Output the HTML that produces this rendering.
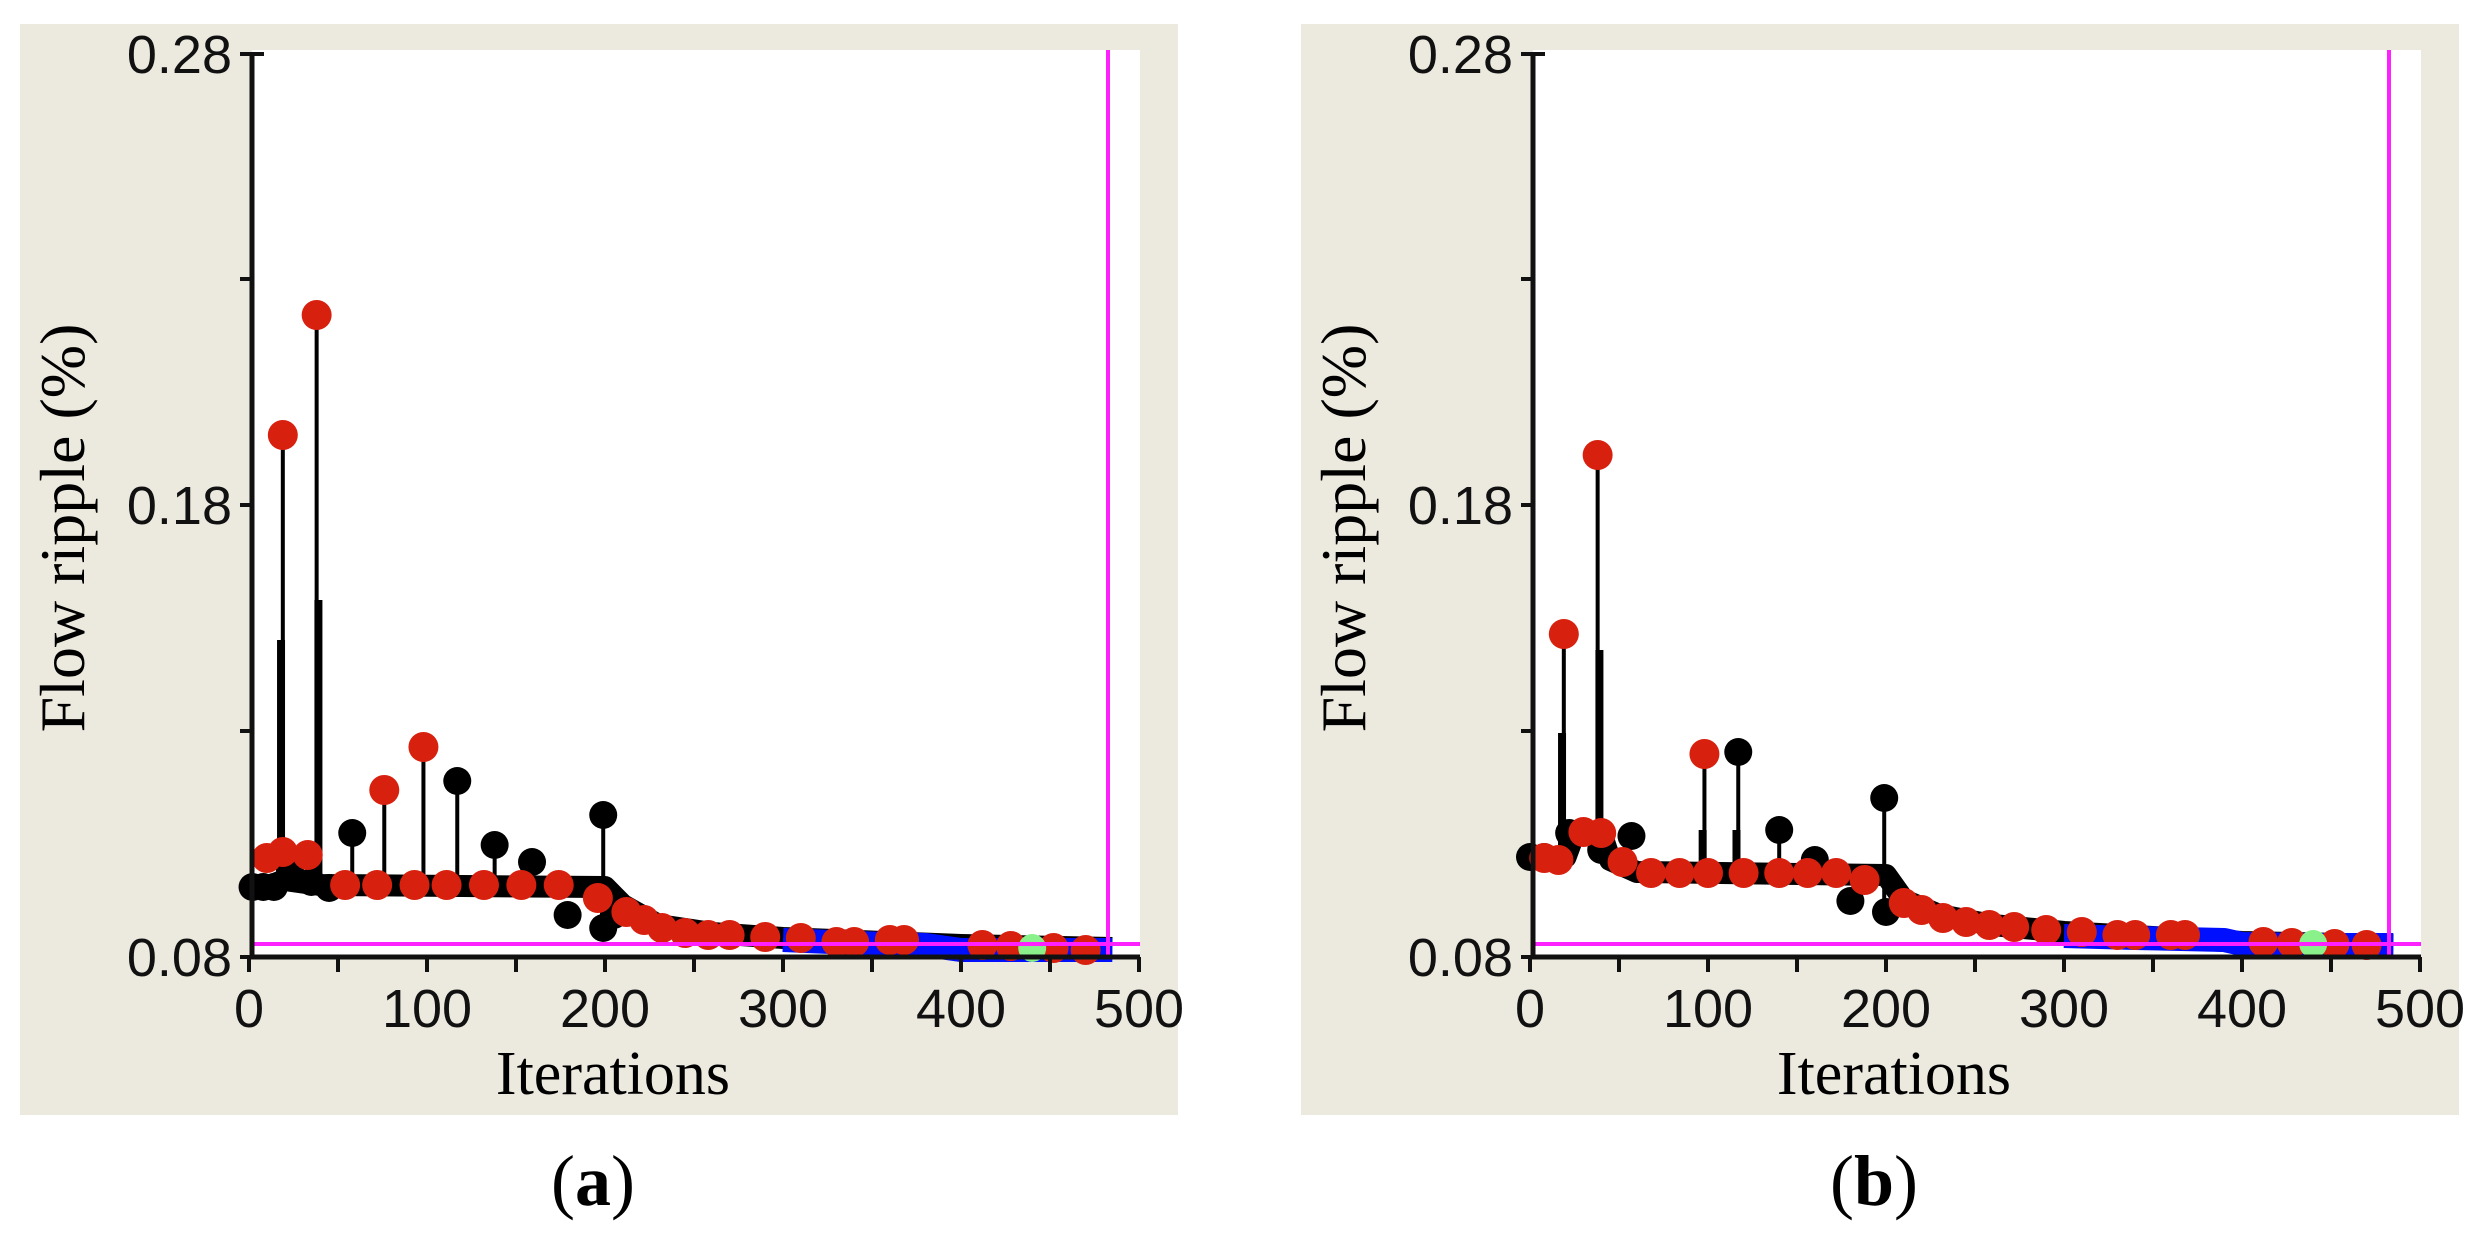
<!DOCTYPE html>
<html><head><meta charset="utf-8"><style>
html,body{margin:0;padding:0;background:#fff;width:2479px;height:1243px;overflow:hidden}
svg{display:block}
.t{font-family:"Liberation Sans",sans-serif;font-size:54px;fill:#111}
.s{font-family:"Liberation Serif",serif;fill:#000}
</style></head><body>
<svg id="s" width="2479" height="1243" xmlns="http://www.w3.org/2000/svg">
<g id="pa"></g><g id="pb" transform="translate(1281,0)"></g>
<text class="s" x="613" y="1094" font-size="62" text-anchor="middle">Iterations</text>
<text class="s" x="0" y="0" font-size="64" text-anchor="middle" transform="translate(84,528) rotate(-90)">Flow ripple (%)</text>
<text class="s" x="593" y="1205" font-size="72" text-anchor="middle">(<tspan font-weight="bold">a</tspan>)</text>
<text class="s" x="1894" y="1094" font-size="62" text-anchor="middle">Iterations</text>
<text class="s" x="0" y="0" font-size="64" text-anchor="middle" transform="translate(1365,528) rotate(-90)">Flow ripple (%)</text>
<text class="s" x="1874" y="1205" font-size="72" text-anchor="middle">(<tspan font-weight="bold">b</tspan>)</text>
</svg>
<script>
function X(i){return 249+i*1.78;}
function build(id,d){
 var s='';
 s+='<rect x="20" y="24" width="1158" height="1091" fill="#ece9de"/>';
 s+='<rect x="252" y="50" width="888" height="907" fill="#fff"/>';
 s+='<polyline points="'+d.base.map(p=>X(p[0])+','+p[1]).join(' ')+'" fill="none" stroke="#000" stroke-width="22" stroke-linejoin="round"/>';
 s+='<polyline points="'+d.blue.map(p=>X(p[0])+','+p[1]).join(' ')+'" fill="none" stroke="#0010ff" stroke-width="24" stroke-linejoin="round"/>';
 d.stems.forEach(function(p){s+='<line x1="'+X(p[0])+'" y1="'+p[1]+'" x2="'+X(p[0])+'" y2="'+p[2]+'" stroke="#000" stroke-width="'+(p[3]||4)+'"/>';});
 d.blk.forEach(function(p){s+='<circle cx="'+X(p[0])+'" cy="'+p[1]+'" r="14" fill="#000"/>';});
 d.red.forEach(function(p){s+='<circle cx="'+X(p[0])+'" cy="'+p[1]+'" r="15" fill="#d8200f"/>';});
 s+='<circle cx="'+X(d.green[0])+'" cy="'+d.green[1]+'" r="14" fill="#8af08a"/>';
 s+='<line x1="252" y1="944" x2="1140" y2="944" stroke="#ff20ff" stroke-width="4"/>';
 s+='<line x1="1108" y1="50" x2="1108" y2="957" stroke="#ff20ff" stroke-width="4"/>';
 s+='<line x1="252" y1="52" x2="252" y2="959" stroke="#111" stroke-width="5"/>';
 s+='<line x1="250" y1="957" x2="1140" y2="957" stroke="#111" stroke-width="5"/>';
 s+='<line x1="240" y1="54" x2="264" y2="54" stroke="#111" stroke-width="4"/>';
 [279,505,731,957].forEach(function(y){s+='<line x1="240" y1="'+y+'" x2="252" y2="'+y+'" stroke="#111" stroke-width="4"/>';});
 for(var i=0;i<=500;i+=50){s+='<line x1="'+X(i)+'" y1="957" x2="'+X(i)+'" y2="972" stroke="#111" stroke-width="4"/>';}
 var yl=[["0.28",54],["0.18",505],["0.08",957]];
 yl.forEach(function(a){s+='<text class="t" x="232" y="'+(a[1]+19)+'" text-anchor="end">'+a[0]+'</text>';});
 for(var i=0;i<=500;i+=100){s+='<text class="t" x="'+X(i)+'" y="1027" text-anchor="middle">'+i+'</text>';}
 document.getElementById(id).innerHTML=s;
}
var A={
 base:[[0,887],[10,887],[20,880],[40,885],[200,887],[210,905],[230,925],[260,933],[300,938],[400,945],[485,948]],
 blue:[[300,940],[340,943],[380,945],[400,950],[440,950],[485,950]],
 stems:[[19,435,885],[18,640,885,8],[38,315,885],[39,600,885,8],[58,833,885],[76,790,885],[98,747,885],[117,781,885],[138,845,885],[199,815,928]],
 blk:[[2,887],[8,887],[14,887],[23,870],[35,882],[45,888],[58,833],[117,781],[138,845],[159,862],[179,915],[199,815],[199,928],[205,915]],
 red:[[19,435],[38,315],[76,790],[98,747],[10,858],[19,852],[33,855],[54,885],[72,885],[93,885],[111,885],[132,885],[153,885],[174,885],[196,898],[212,912],[222,920],[232,928],[245,933],[258,935],[270,935],[290,937],[310,938],[330,942],[340,942],[360,940],[368,940],[412,945],[428,946],[452,948],[470,950]],
 green:[440,948]
};
var B={
 base:[[0,857],[20,857],[25,833],[40,833],[45,860],[60,872],[200,875],[210,900],[230,915],[260,925],[300,932],[400,942],[485,945]],
 blue:[[300,936],[340,938],[390,940],[400,944],[440,945],[485,945]],
 stems:[[19,634,857],[18,733,857,8],[38,455,833],[39,650,833,8],[98,754,872],[97,830,872,8],[117,752,872],[116,830,872,8],[140,830,872],[199,798,912]],
 blk:[[0,857],[8,857],[22,833],[40,850],[57,836],[117,752],[140,830],[160,860],[180,901],[199,798],[200,912]],
 red:[[19,634],[38,455],[98,754],[8,858],[16,860],[30,832],[40,833],[52,862],[68,873],[84,873],[100,873],[120,873],[140,873],[156,873],[172,873],[188,880],[210,903],[220,910],[232,918],[245,922],[258,925],[272,927],[290,930],[310,932],[330,935],[340,935],[360,935],[368,935],[412,942],[428,943],[452,944],[470,945]],
 green:[440,944]
};
build('pa',A);build('pb',B);
</script>
</body></html>
